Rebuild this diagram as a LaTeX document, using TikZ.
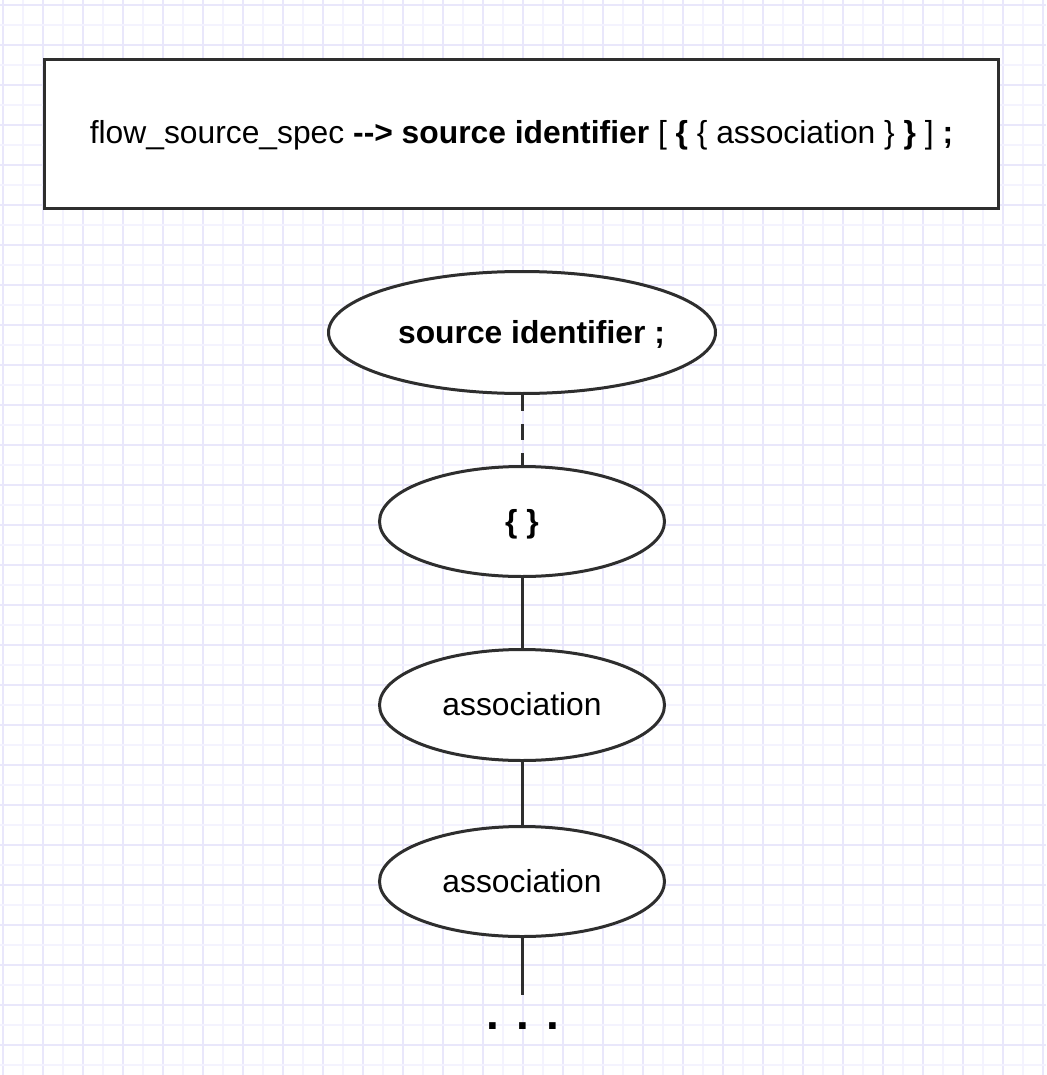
\documentclass[tikz,border=0pt]{standalone}
\usepackage{fontspec}
\setmainfont{Liberation Sans}
\usetikzlibrary{shapes.geometric}
\definecolor{gridmajor}{HTML}{E9E7FB}
\definecolor{gridminor}{HTML}{F4F3FE}
\definecolor{ink}{HTML}{2E2E2E}
\begin{document}
\begin{tikzpicture}[x=1pt,y=-1pt,
  every node/.style={font=\fontsize{31.8}{38}\selectfont, text=black},
  termbox/.style={draw=ink, line width=3pt, fill=white, rectangle, inner sep=0pt,
    minimum width=954pt, minimum height=149pt, text height=23pt, text depth=3pt},
  termnode/.style={draw=ink, line width=3pt, fill=white, ellipse, inner sep=0pt,
    text height=23pt, text depth=2pt},
  termtext/.style={inner sep=0pt, text height=23pt, text depth=2pt},
  link/.style={draw=ink, line width=3pt},
  dashlink/.style={link, dash pattern=on 16pt off 13pt}]
  \useasboundingbox (0,0) rectangle (1046,1075);
  \fill[white] (0,0) rectangle (1046,1075);
  % background grid: fine lines every 20px, stronger every 40px
  \foreach \gx in {3,23,...,1043} {
    \pgfmathtruncatemacro{\m}{mod(\gx-3,40)}
    \ifnum\m=0 \def\gc{gridmajor}\else\def\gc{gridminor}\fi
    \draw[\gc, line width=2pt] (\gx,0) -- (\gx,1075);
  }
  \foreach \gy in {5,25,...,1065} {
    \pgfmathtruncatemacro{\m}{mod(\gy-5,40)}
    \ifnum\m=0 \def\gc{gridmajor}\else\def\gc{gridminor}\fi
    \draw[\gc, line width=2pt] (0,\gy) -- (1046,\gy);
  }

  % production rule
  \node[termbox] (rule) at (521.5,134)
    {flow\_source\_spec \textbf{-{}->} \textbf{source identifier} [ \textbf{\{} \{ association \} \textbf{\}} ] \textbf{;}};

  % derivation chain
  \node[termnode, minimum width=387pt, minimum height=122pt] (src) at (522,332.5) {};
  \node[termtext] (srclabel) at (531.5,332.5) {\textbf{source identifier ;}};
  \node[termnode, minimum width=285pt, minimum height=110pt] (braces) at (522,521.5)
    {\textbf{\{ \}}};
  \node[termnode, minimum width=285pt, minimum height=111pt] (assocA) at (522,705)
    {association};
  \node[termnode, minimum width=285pt, minimum height=110pt] (assocB) at (522,881.5)
    {association};
  \coordinate (tail) at (522,995);
  \node[anchor=base, font=\fontsize{46}{50}\selectfont\bfseries] (more) at (523,1029) {. . .};

  \draw[dashlink] (src.south) -- (braces.north);
  \draw[link] (braces.south) -- (assocA.north);
  \draw[link] (assocA.south) -- (assocB.north);
  \draw[link] (assocB.south) -- (tail);
\end{tikzpicture}
\end{document}
